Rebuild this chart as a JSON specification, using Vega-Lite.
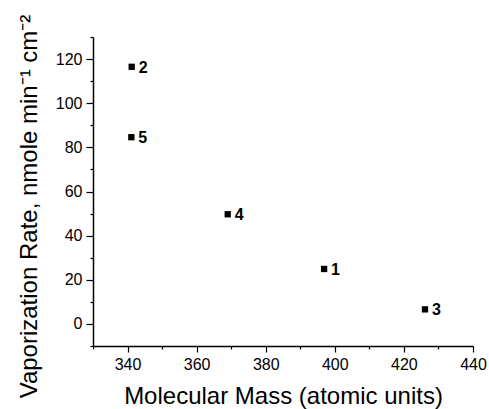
{
  "$schema": "https://vega.github.io/schema/vega-lite/v6.json",
  "autosize": "none",
  "width": 380,
  "height": 309,
  "padding": {"left": 93, "top": 37, "right": 16, "bottom": 63},
  "background": "white",
  "config": {
    "view": {"stroke": null},
    "font": "Liberation Sans",
    "axis": {
      "domainColor": "black",
      "domainWidth": 1.5,
      "tickColor": "black",
      "tickWidth": 1.2,
      "labelColor": "black",
      "titleColor": "black",
      "labelFont": "Liberation Sans",
      "titleFont": "Liberation Sans",
      "labelFontSize": 16,
      "titleFontSize": 24,
      "titleFontWeight": "normal",
      "grid": false
    }
  },
  "data": {
    "values": [
      {"mass": 341.2, "rate": 116.5, "id": "2"},
      {"mass": 341.1, "rate": 84.6, "id": "5"},
      {"mass": 369.0, "rate": 49.7, "id": "4"},
      {"mass": 396.9, "rate": 24.9, "id": "1"},
      {"mass": 426.1, "rate": 6.6, "id": "3"}
    ]
  },
  "encoding": {
    "x": {
      "field": "mass", "type": "quantitative",
      "scale": {"domain": [330, 440], "nice": false, "zero": false},
      "axis": {
        "title": "Molecular Mass (atomic units)",
        "values": [330, 340, 350, 360, 370, 380, 390, 400, 410, 420, 430, 440],
        "labelExpr": "datum.value % 20 == 0 ? datum.label : ''",
        "tickSize": {"condition": {"test": "datum.value % 20 == 0", "value": 6}, "value": 3},
        "labelPadding": 4,
        "titlePadding": 12,
        "labelFlush": false
      }
    },
    "y": {
      "field": "rate", "type": "quantitative",
      "scale": {"domain": [-10, 130], "nice": false, "zero": false},
      "axis": {
        "title": "Vaporization Rate, nmole min⁻¹ cm⁻²",
        "values": [-10, 0, 10, 20, 30, 40, 50, 60, 70, 80, 90, 100, 110, 120, 130],
        "labelExpr": "datum.value % 20 == 0 ? datum.label : ''",
        "tickSize": {"condition": {"test": "datum.value % 20 == 0", "value": 7}, "value": 3},
        "labelPadding": 4,
        "titlePadding": 14,
        "titleY": 169,
        "labelFlush": false
      }
    }
  },
  "layer": [
    {
      "mark": {"type": "point", "shape": "square", "filled": true, "color": "black", "size": 40, "opacity": 1}
    },
    {
      "mark": {"type": "text", "align": "left", "baseline": "middle", "dx": 7, "dy": 1, "fontSize": 16, "fontWeight": "bold", "color": "black"},
      "encoding": {"text": {"field": "id"}}
    }
  ]
}
